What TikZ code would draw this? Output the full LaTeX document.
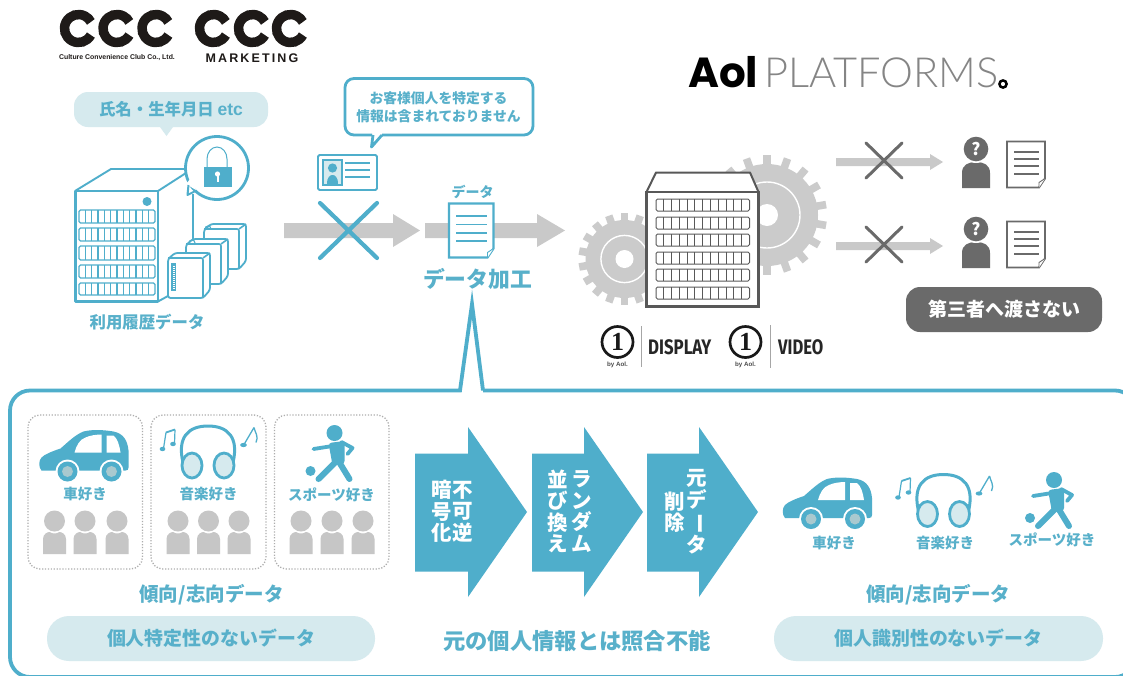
\documentclass[tikz,border=0pt]{standalone}
\usepackage{fontspec}
\usepackage{graphicx}
\setmainfont{Noto Sans CJK JP}
\newfontfamily\latinf{Lato Light}
\newfontfamily\popf{Poppins}
\newfontfamily\firaf{Fira Sans}
\newfontfamily\liberf{Liberation Sans}
\newfontfamily\serff{Liberation Serif}
\definecolor{tealc}{HTML}{4FAECB}
\definecolor{teltx}{HTML}{58B0CA}
\definecolor{palec}{HTML}{D6EAEE}
\definecolor{wheelc}{HTML}{A9C9CF}
\definecolor{arrowg}{HTML}{C9C9C9}
\definecolor{geargr}{HTML}{CBCBCB}
\definecolor{darkg}{HTML}{6A6A6A}
\definecolor{bldg}{HTML}{585858}
\definecolor{persong}{HTML}{C6C6C6}
\definecolor{logok}{HTML}{1E1A18}
\newcommand\fz[1]{\fontsize{#1}{#1}\selectfont}
\newcommand\vch{\rotatebox[origin=c]{-90}{ー}}
\newcommand\slotrow[6]{%
  \draw[#6,rounded corners=1.5] (#1,#2) rectangle (#3,#4);
  \foreach \ii in {1,...,#5}{
    \draw[#6] ({#1+\ii*(#3-#1)/(#5+1)},#2) -- ({#1+\ii*(#3-#1)/(#5+1)},#4);
  }}
\newcommand\gearat[6]{% cx cy Rout Rbody ring hole
  \foreach \aa in {0,20,...,340}{
    \fill[geargr,rotate around={\aa:(#1,#2)}] ({#1-3.8},{#2-#3}) rectangle ({#1+3.8},{#2-#4+2});
  }
  \fill[geargr] (#1,#2) circle[radius=#4];
  \draw[white,line width=1.4] (#1,#2) circle[radius=#5];
  \fill[white] (#1,#2) circle[radius=#6];}
\newcommand\docicon[7]{% x1 y1 x2 y2 color width, line-y list
  \draw[#5,line width=#6,fill=white,line join=miter]
    (#1,#2) -- (#3,#2) -- (#3,{#4-9}) -- ({#3-6},#4) -- (#1,#4) -- cycle;
  \draw[#5,line width=.9,fill=white] ({#3-6},#4) -- ({#3-6},{#4-5}) -- (#3,{#4-9});
  \foreach \yy in {#7}{
    \draw[#5,line width=1.9] ({#1+7},\yy) -- ({#3-6.5},\yy);
  }}
\tikzset{
  x=1pt,y=-1pt,
  jptext/.style={font=\bfseries,text=teltx,inner sep=0pt,outer sep=0pt},
  pill/.style={fill=palec,draw=none,rounded corners=22},
  blockarrow/.style={fill=tealc,draw=none},
  grayarrow/.style={fill=arrowg,draw=none},
  dotbox/.style={draw=black!32,line width=1.3,dash pattern=on 1.2pt off 1.7pt,rounded corners=12},
  vcol/.style={font=\bfseries\fontsize{20.5}{21.5}\selectfont,text=white,align=center,inner sep=0pt,outer sep=0pt},
  car/.pic={
    \fill[tealc] (86,40) .. controls (88,40) and (89,39) .. (89,37) -- (89,20) .. controls (88,10) and (84,3) .. (74,1)
      .. controls (62,-1) and (52,-1) .. (44,1) .. controls (36,4) and (28,12) .. (21,18)
      .. controls (12,21) and (5,24) .. (2,27) .. controls (-1,30) and (-1,37) .. (2,40) -- cycle;
    \fill[white] (35,22) .. controls (37,15) and (40,9) .. (46,7) .. controls (50,5) and (57,4) .. (62,4) -- (62,22) -- cycle;
    \fill[white] (67,5) -- (74,5) .. controls (78,8) and (80,15) .. (81,22) -- (67,22) -- cycle;
    \foreach \wx in {28,72}{
      \fill[white] (\wx,41) circle[radius=12];
      \fill[tealc] (\wx,41) circle[radius=10];
      \fill[wheelc] (\wx,41) circle[radius=5.5];
    }
  },
  phones/.pic={
    \draw[tealc,line width=3] (-25,38) .. controls (-31,13) and (-20,1.5) .. (0,1.5) .. controls (20,1.5) and (31,13) .. (25,38);
    \foreach \ex in {-16,16}{
      \draw[tealc,line width=2.8,fill=palec] (\ex,41) ellipse[x radius=10,y radius=12.5];
    }
    \draw[tealc,line width=1.8,line join=round] (-42,8) -- (-33,5);
    \draw[tealc,line width=1.2] (-42,8) -- (-44.5,24) (-33,5) -- (-33.5,19);
    \fill[tealc] (-45.5,24.5) ellipse[x radius=2.8,y radius=2.2];
    \fill[tealc] (-35,19.5) ellipse[x radius=2.8,y radius=2.2];
    \draw[tealc,line width=1.3] (46,3) -- (36,20) (46,3) .. controls (47,8) and (51,12) .. (48,18);
    \fill[tealc] (35.5,20.5) ellipse[x radius=3.4,y radius=2.1];
  },
  runner/.pic={
    \fill[tealc] (0,0) circle[radius=8];
    \fill[tealc,rounded corners=3] (-6,10) -- (10,8) -- (10,31) -- (-2,32) -- cycle;
    \draw[tealc,line width=6,line cap=round] (2,28) -- (-16,46);
    \draw[tealc,line width=6,line cap=round] (4,28) -- (15,46);
    \draw[tealc,line width=3.8,line cap=round,line join=round] (-2,13) -- (-21,16);
    \draw[tealc,line width=3.8,line cap=round,line join=round] (7,9) -- (18,15) -- (13,21);
    \fill[tealc] (-24,38) circle[radius=5];
  },
  crowd/.pic={
    \fill[persong] (0,0) circle[radius=10.5];
    \fill[persong] (-11.5,33) -- (-11.5,18) .. controls (-11.5,13) and (-7,11) .. (-5,11) .. controls (-2,13) and (2,13) .. (5,11) .. controls (7,11) and (11.5,13) .. (11.5,18) -- (11.5,33) -- cycle;
  },
  askperson/.pic={
    \fill[darkg] (-14,39) -- (-14,24) .. controls (-14,16) and (-8,13) .. (0,13) .. controls (8,13) and (14,16) .. (14,24) -- (14,39) -- cycle;
    \fill[white] (0,0) circle[radius=14];
    \fill[darkg] (0,0) circle[radius=12.3];
    \node[font=\bfseries\fz{17},text=white,inner sep=0pt] at (0,0) {?};
  }
}
\begin{document}
\begin{tikzpicture}
\clip (0,0) rectangle (1123,675);
\fill[white] (0,0) rectangle (1123,675);

% --- logos
\foreach \cx in {78.5,117,156,213.5,252.5,290.5}{
  \draw[logok,line width=9.5] (\cx,28.5) ++(28:14) arc[start angle=28,end angle=332,radius=14];
}
\node[font=\liberf\bfseries\fz{6.9},text=logok,inner sep=0pt] (tagone) at (117,58) {Culture Convenience Club Co., Ltd.};
\node[font=\liberf\bfseries\fz{12.5},text=logok,inner sep=0pt] (tagtwo) at (252,58.5) {\addfontfeatures{LetterSpace=17}MARKETING};
\node[font=\popf\bfseries\fz{42},text=black,inner sep=0pt,anchor=base west] (aolname) at (688,87.5) {Aol};
\node[font=\latinf\fz{41.5},text=black!48,inner sep=0pt,anchor=base west] (platname) at (764,87) {PLATFORMS};
\draw[black,line width=2.5] (1003,84) circle[radius=3.6];

% --- left server
\node[pill,minimum width=194,minimum height=35,rounded corners=14,font=\bfseries\fz{16.4},text=teltx,inner sep=0pt] (fields) at (171,109.5) {氏名・生年月日 {\liberf\fz{17.5}etc}};
\fill[palec] (160,127) -- (166.5,136) -- (173,127) -- cycle;
\begin{scope}[tealc,line width=1.9,line join=round]
  \draw (75,191) -- (111,169) -- (185,169);
  \draw (158,191) -- (186,173);
  \draw (193,194) -- (193,242);
  \draw[line width=2.5] (75.5,191) rectangle (158,301.5);
  \draw (158,301.5) -- (168,296);
  \fill (147,201.5) circle[radius=4.5];
\end{scope}
\foreach \ya/\yb in {210/223,228/241,246/260,265/278,283/295}{
  \slotrow{79}{\ya}{155}{\yb}{11}{tealc,line width=1.1}
}
% small boxes
\foreach \dx/\dy in {36/-29,18/-14,0/0}{
  \begin{scope}[shift={(\dx,\dy)}]
    \draw[tealc,line width=1.8,fill=white,rounded corners=2.5,line join=round]
      (168,259) -- (175,253) -- (210,253) -- (210,290) -- (203,298) -- (168,298) -- cycle;
    \draw[tealc,line width=1.6,rounded corners=2] (168,258) -- (203,258) -- (203,298);
    \draw[tealc,line width=1.6] (203,258) -- (210,253);
  \end{scope}
}
\foreach \yy in {265,267,...,289}{ \draw[tealc,line width=.8] (172,\yy) -- (175.5,\yy); }
\draw[tealc,line width=1.1] (172,264) rectangle (175.5,290);
\draw[tealc,line width=1.1] (189,243) arc[start angle=180,end angle=360,radius=3] ;
\draw[tealc,line width=1.1] (205,229) arc[start angle=180,end angle=360,radius=3] ;
% lock
\draw[tealc,line width=2.8,fill=white] (217,168) circle[radius=31.5];
\fill[white] (186,184) -- (196,190) -- (191,178) -- cycle;
\draw[tealc,line width=2,line join=round] (188.5,185) -- (187.5,195) -- (195.5,191);
\draw[tealc,line width=1] (207,167) -- (207,159) arc[start angle=180,end angle=360,x radius=10,y radius=12] -- (227,167);
\fill[tealc] (203.5,167) rectangle (232,187);
\fill[white] (217.5,174) circle[radius=2.6];
\fill[white] (216.5,175) rectangle (218.5,182);
\node[jptext,font=\bfseries\fz{16.4}] (histlabel) at (147,322) {利用履歴データ};

% --- speech bubble
\draw[tealc,line width=2.8,fill=white,rounded corners=9,line join=round]
  (372,135) -- (345,135) -- (345,78.5) -- (533,78.5) -- (533,135) -- (382,135);
\draw[tealc,line width=2.8,line join=round] (373,135) -- (371.5,147) -- (382,135);
\node[jptext,font=\bfseries\fz{13.8},align=center] (notice) at (438.5,107) {お客様個人を特定する\\[4pt]情報は含まれておりません};

% --- id card
\draw[tealc,line width=1.9,rounded corners=1.5] (318,155) rectangle (377,190);
\draw[tealc,line width=1.3,fill=palec] (323,160) rectangle (342,185);
\fill[tealc] (332.5,168) circle[radius=4.6];
\fill[tealc] (327,184) .. controls (327,177) and (330,175) .. (332.5,175) .. controls (335,175) and (338,177) .. (338,184) -- cycle;
\foreach \yy in {163,170,177}{ \draw[tealc,line width=1.7] (345,\yy) -- (370,\yy); }

% --- main gray arrows
\fill[grayarrow] (284,223) -- (393,223) -- (393,214) -- (420,230.5) -- (393,247) -- (393,238) -- (284,238) -- cycle;
\draw[tealc,line width=4.2,line cap=round] (320,203) -- (377,258) (377,203) -- (320,258);
\fill[grayarrow] (425,223) -- (537,223) -- (537,214) -- (565,230.5) -- (537,247) -- (537,238) -- (425,238) -- cycle;
\docicon{449}{203.5}{493.5}{257.5}{tealc}{2.1}{216,224.5,233,241}
\node[jptext,font=\bfseries\fz{14}] (datalab) at (472.5,191.5) {データ};
\node[jptext,font=\bfseries\fz{21.8}] (procname) at (477.5,279) {データ加工};

% --- gears + building
\gearat{767}{215}{60}{51}{33}{11}
\gearat{624.5}{259}{46}{39}{23.6}{9}
\draw[bldg,line width=2,fill=white,line join=round] (646.5,192) -- (656,172.5) -- (750,172.5) -- (758.5,192) -- cycle;
\draw[bldg,line width=2.2,fill=white] (646.5,192) rectangle (758.5,306.5);
\foreach \ya/\yb in {199/211,217/229,234/246,252/264,269/281,287/299}{
  \slotrow{656}{\ya}{749.5}{\yb}{11}{bldg,line width=1}
}

% --- one by aol logos
\draw[black!90,line width=2.7] (617.5,342) circle[radius=15.5];
\node[font=\serff\bfseries\fz{26},text=black!90,inner sep=0pt] (oneA) at (617.5,342) {1};
\node[font=\liberf\bfseries\fz{6.2},text=black!70,inner sep=0pt] (byA) at (617.5,364.5) {by Aol.};
\draw[black!35,line width=1] (641.5,326) -- (641.5,367);
\node[font=\firaf\bfseries\fz{21},text=black!85,inner sep=0pt,anchor=west] (dispname) at (648,347) {\scalebox{.8}[1]{DISPLAY}};
\draw[black!90,line width=2.7] (745.5,342) circle[radius=15.5];
\node[font=\serff\bfseries\fz{26},text=black!90,inner sep=0pt] (oneB) at (745.5,342) {1};
\node[font=\liberf\bfseries\fz{6.2},text=black!70,inner sep=0pt] (byB) at (745.5,364.5) {by Aol.};
\draw[black!35,line width=1] (770.5,325) -- (770.5,368);
\node[font=\firaf\bfseries\fz{21},text=black!85,inner sep=0pt,anchor=west] (vidname) at (778,347) {\scalebox{.79}[1]{VIDEO}};

% --- third party
\foreach \oy in {0,84}{
  \begin{scope}[yshift={-\oy pt}]
  \fill[grayarrow] (836,158) -- (930,158) -- (930,154) -- (943,162) -- (930,170) -- (930,166) -- (836,166) -- cycle;
  \draw[darkg,line width=3,line cap=round] (866,143) -- (902,178) (902,143) -- (866,178);
  \end{scope}
}
\pic at (976,149) {askperson};
\pic at (976,229) {askperson};
\docicon{1007}{141.5}{1045}{187.5}{darkg}{1.9}{152,159,166,174}
\docicon{1007}{221.5}{1045}{267.5}{darkg}{1.9}{232,239,246,254}
\node[fill=darkg,minimum width=196,minimum height=45,rounded corners=14,font=\bfseries\fz{19},text=white,inner sep=0pt] (nohand) at (1004,309.5) {第三者へ渡さない};

% --- panel
\draw[tealc,line width=3.8,line join=miter]
  (483,390.5) {[rounded corners=20] -- (1135,390.5) -- (1135,677) -- (10,677) -- (10,390.5)} -- (460,390.5) -- (472,304) -- (483,390.5);

% left column
\draw[dotbox] (28,415) rectangle (142.5,569);
\draw[dotbox] (151,415) rectangle (266,569);
\draw[dotbox] (274.5,415) rectangle (389,569);
\pic at (39.5,430.5) {car};
\pic at (208,424.5) {phones};
\pic at (334.5,433) {runner};
\node[jptext,font=\bfseries\fz{14.5}] (carA) at (85,494.5) {車好き};
\node[jptext,font=\bfseries\fz{14.5}] (musA) at (208.5,494.5) {音楽好き};
\node[jptext,font=\bfseries\fz{14.5}] (sptA) at (331.5,494.5) {スポーツ好き};
\foreach \px in {54.5,85,117,178,208.5,239,301,332,363}{
  \pic at (\px,521) {crowd};
}
\node[jptext,font=\bfseries\fz{19.5}] (trendA) at (211.5,594.5) {傾向/志向データ};
\node[pill,minimum width=328,minimum height=45,font=\bfseries\fz{18.9},text=teltx,inner sep=0pt] (noidA) at (211,638.5) {個人特定性のないデータ};

% block arrows
\foreach \xa/\xb/\xc in {415/468/527,532/584/643,647/699/758}{
  \fill[blockarrow] (\xa,453.5) -- (\xb,453.5) -- (\xb,427) -- (\xc,512) -- (\xb,597) -- (\xb,571.5) -- (\xa,571.5) -- cycle;
}
\node[vcol] (colA) at (463,511.5) {不\\可\\逆};
\node[vcol] (colB) at (441.5,511.5) {暗\\号\\化};
\node[vcol] (colC) at (582,511.5) {ラ\\ン\\ダ\\ム};
\node[vcol] (colD) at (558,511.5) {並\\び\\換\\え};
\node[vcol] (colE) at (697,512) {元\\デ\\\vch\\タ};
\node[vcol] (colF) at (675,512) {削\\除};
\node[jptext,font=\bfseries\fz{22.3}] (nomatch) at (577,640.5) {元の個人情報とは照合不能};

% right column
\pic at (783,478) {car};
\pic at (943.5,473) {phones};
\pic at (1054,480) {runner};
\node[jptext,font=\bfseries\fz{14.5}] (carB) at (834,543) {車好き};
\node[jptext,font=\bfseries\fz{14.5}] (musB) at (945,543) {音楽好き};
\node[jptext,font=\bfseries\fz{14.5}] (sptB) at (1052,540) {スポーツ好き};
\node[jptext,font=\bfseries\fz{19.5}] (trendB) at (938,594.5) {傾向/志向データ};
\node[pill,minimum width=329,minimum height=45,font=\bfseries\fz{18.9},text=teltx,inner sep=0pt] (noidB) at (938.5,638.5) {個人識別性のないデータ};
\end{tikzpicture}
\end{document}
